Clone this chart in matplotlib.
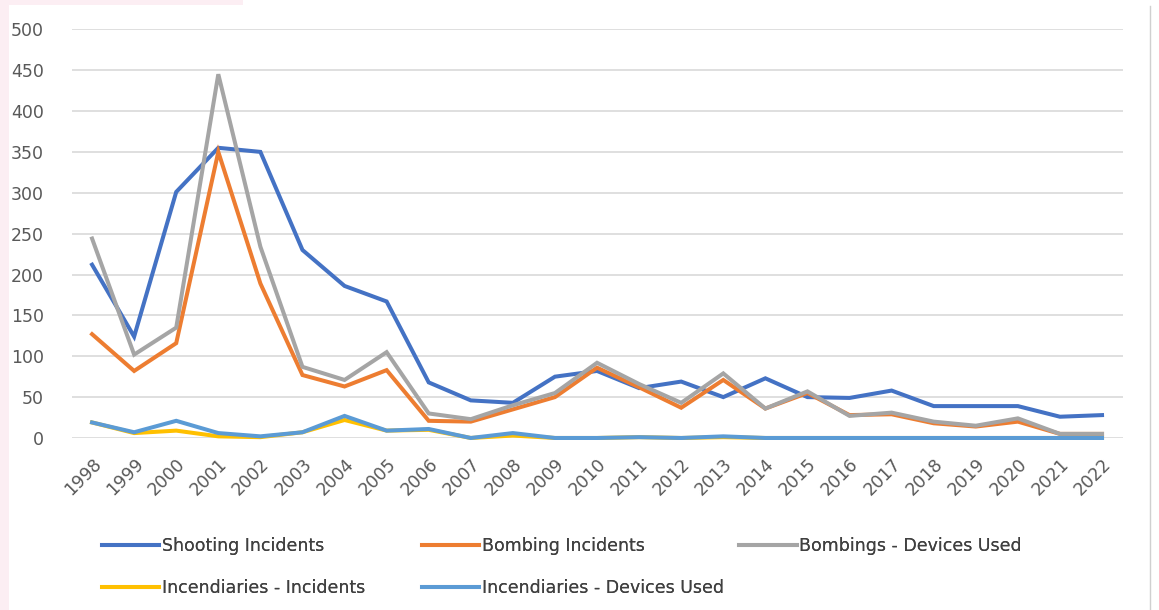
import matplotlib
matplotlib.use("Agg")
import matplotlib.pyplot as plt
from matplotlib.lines import Line2D
from matplotlib.patches import Rectangle

years = [str(y) for y in range(1998, 2023)]

shooting = [212, 124, 301, 355, 350, 230, 186, 167, 68, 46, 43, 75, 82, 61, 69, 50, 73, 50, 49, 58, 39, 39, 39, 26, 28]
bombing = [127, 82, 116, 350, 189, 77, 63, 83, 21, 20, 35, 50, 86, 62, 37, 71, 36, 55, 28, 29, 18, 14, 20, 5, 5]
bomb_devices = [244, 102, 135, 445, 234, 87, 71, 105, 30, 23, 40, 55, 92, 66, 43, 79, 36, 57, 27, 31, 20, 15, 24, 5, 5]
incend_incidents = [19, 6, 9, 2, 1, 7, 22, 9, 10, 0, 3, 0, 0, 1, 0, 1, 0, 0, 0, 0, 0, 0, 0, 0, 0]
incend_devices = [19, 7, 21, 6, 2, 7, 27, 9, 11, 0, 6, 0, 0, 1, 0, 2, 0, 0, 0, 0, 0, 0, 0, 0, 0]

series = [
    ("Shooting Incidents", shooting, "#4472C4"),
    ("Bombing Incidents", bombing, "#ED7D31"),
    ("Bombings - Devices Used", bomb_devices, "#A5A5A5"),
    ("Incendiaries - Incidents", incend_incidents, "#FFC000"),
    ("Incendiaries - Devices Used", incend_devices, "#5B9BD5"),
]

# legend layout: three columns, filled row by row
legend_cols = [[0, 3], [1, 4], [2]]
legend_x = [0.088, 0.364, 0.638]


def main():
    fig = plt.figure(figsize=(11.59, 6.10), dpi=100)
    ax = fig.add_axes([0.062, 0.282, 0.907, 0.670])

    x = list(range(len(years)))
    lines = []
    for label, vals, color in series:
        ln, = ax.plot(x, vals, color=color, lw=2.9, label=label, clip_on=False,
                      solid_joinstyle="miter")
        lines.append(ln)

    ax.set_ylim(0, 500)
    ax.set_xlim(-0.48, len(years) - 0.5)
    ax.set_yticks(range(0, 501, 50))
    ax.set_xticks(x)
    ax.set_xticklabels(years, rotation=45, ha="right", rotation_mode="anchor")
    ax.grid(axis="y", color="#D9D9D9", lw=1.2)
    ax.set_axisbelow(True)
    for s in ax.spines.values():
        s.set_visible(False)
    ax.tick_params(length=0, labelsize=12.5, colors="#595959", pad=12)
    ax.tick_params(axis="y", pad=20)

    for col, lx in zip(legend_cols, legend_x):
        leg = fig.legend([lines[i] for i in col], [series[i][0] for i in col],
                         loc="upper left", bbox_to_anchor=(lx, 0.120),
                         frameon=False, fontsize=12.5, labelcolor="#404040",
                         handlelength=3.3, handletextpad=0.15,
                         labelspacing=1.38, borderpad=0, borderaxespad=0)
        fig.add_artist(leg)

    # outer frame bits of the original screenshot
    fig.add_artist(Line2D([0.992, 0.992], [0.0, 0.99], color="#D0D0D0", lw=1.0))
    fig.add_artist(Rectangle((0, 0), 0.008, 1, color="#FCEEF3", lw=0))
    fig.add_artist(Rectangle((0, 0.992), 0.21, 0.008, color="#FCEEF3", lw=0))

    fig.savefig("out.png", dpi=100, facecolor="white")


if __name__ == "__main__":
    main()
